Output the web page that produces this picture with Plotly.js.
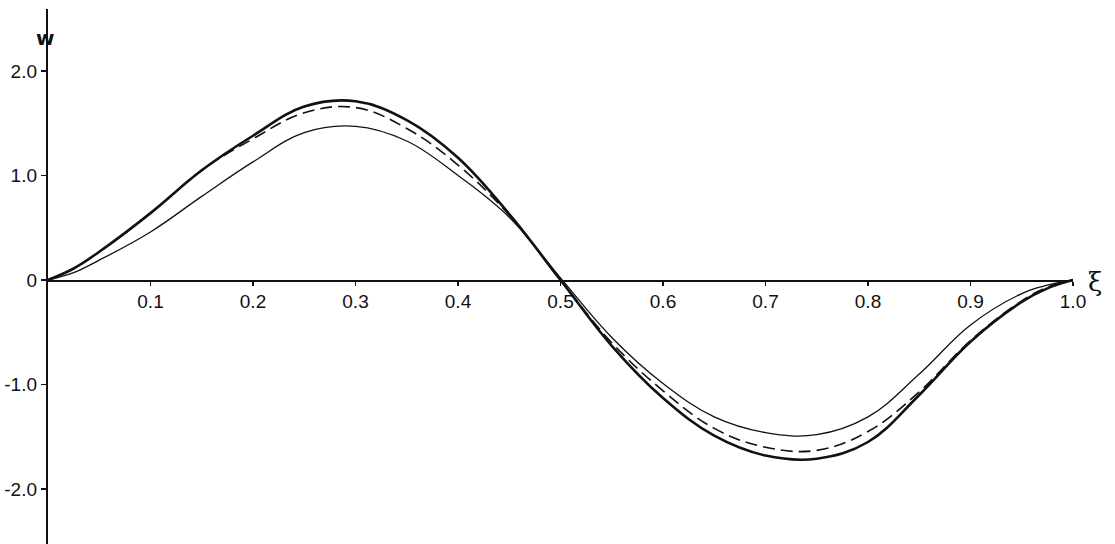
<!DOCTYPE html>
<html>
<head>
<meta charset="utf-8">
<script src="https://cdn.plot.ly/plotly-3.0.1.min.js"></script>
<style>
  html, body { margin: 0; padding: 0; background: #fff; }
  #chart { width: 1115px; height: 544px; }
</style>
</head>
<body>
<div id="chart"></div>
<script>
// Deflection w along the span coordinate xi
const xi = [0, 0.025, 0.05, 0.1, 0.15, 0.2, 0.25, 0.3, 0.35, 0.4, 0.45, 0.5,
            0.55, 0.6, 0.65, 0.7, 0.75, 0.8, 0.85, 0.9, 0.95, 0.975, 1.0];

const wThick = [0, 0.11, 0.27, 0.64, 1.05, 1.38, 1.66, 1.71, 1.53, 1.17, 0.63, 0.0,
                -0.63, -1.13, -1.49, -1.68, -1.71, -1.55, -1.10, -0.59, -0.21, -0.08, 0];
const wDashed = [0, 0.11, 0.27, 0.64, 1.05, 1.35, 1.60, 1.65, 1.45, 1.10, 0.62, 0.0,
                 -0.60, -1.06, -1.42, -1.60, -1.63, -1.45, -1.07, -0.58, -0.20, -0.07, 0];
const wThin = [0, 0.07, 0.19, 0.46, 0.80, 1.13, 1.41, 1.47, 1.33, 1.00, 0.60, 0.02,
               -0.55, -0.99, -1.31, -1.46, -1.48, -1.31, -0.90, -0.43, -0.13, -0.05, 0];

const xTickVals = [0.1, 0.2, 0.3, 0.4, 0.5, 0.6, 0.7, 0.8, 0.9, 1.0];
const xTickText = ['0.1', '0.2', '0.3', '0.4', '0.5', '0.6', '0.7', '0.8', '0.9', '1.0'];
const yTickVals = [-2, -1, 0, 1, 2];
const yTickText = ['-2.0', '-1.0', '0', '1.0', '2.0'];

const font = { family: 'Liberation Sans, Arial, sans-serif', size: 19, color: '#111' };

const traces = [
  { x: xi, y: wThin, mode: 'lines', line: { color: '#111', width: 1.3, shape: 'spline', smoothing: 1.1 } },
  { x: xi, y: wDashed, mode: 'lines', line: { color: '#111', width: 1.6, dash: '12px,6px', shape: 'spline', smoothing: 1.1 } },
  { x: xi, y: wThick, mode: 'lines', line: { color: '#111', width: 2.6, shape: 'spline', smoothing: 1.1 } }
];

const yTop = 2.593, yBottom = -2.526;

const layout = {
  width: 1115, height: 544,
  margin: { l: 48, r: 42, t: 9, b: 0, pad: 0 },
  paper_bgcolor: '#fff', plot_bgcolor: '#fff',
  showlegend: false,
  font: font,
  xaxis: {
    range: [0, 1.0],
    anchor: 'free',
    position: (0 - yBottom) / (yTop - yBottom),
    showline: true, linecolor: '#111', linewidth: 1.6,
    showgrid: false, zeroline: false,
    tickmode: 'array', tickvals: xTickVals, ticktext: xTickText,
    ticks: 'outside', ticklen: 4, tickwidth: 1.5, tickcolor: '#111',
    tickfont: font
  },
  yaxis: {
    range: [yBottom, yTop],
    showline: true, linecolor: '#111', linewidth: 2.2,
    showgrid: false, zeroline: false,
    tickmode: 'array', tickvals: yTickVals, ticktext: yTickText,
    ticks: 'outside', ticklen: 5, tickwidth: 1.5, tickcolor: '#111',
    tickfont: font
  },
  annotations: [
    { xref: 'x', yref: 'y', x: 1.0, y: 0, xshift: 22, yshift: -2, text: 'ξ', showarrow: false,
      font: { family: 'DejaVu Serif, serif', size: 26, color: '#111' } },
    { xref: 'paper', yref: 'y', x: 0, y: 2.32, xshift: -14, text: '<b>w</b>', showarrow: false,
      font: { family: 'DejaVu Sans, sans-serif', size: 20, color: '#111' } }
  ]
};

Plotly.newPlot('chart', traces, layout, { displayModeBar: false, staticPlot: true });
</script>
</body>
</html>
